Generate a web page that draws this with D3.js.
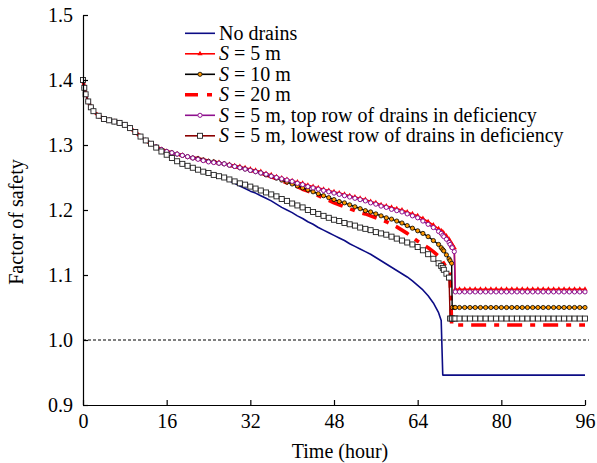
<!DOCTYPE html>
<html><head><meta charset="utf-8">
<script src="https://cdn.jsdelivr.net/npm/d3@7"></script>
<style>
html,body{margin:0;padding:0;background:#fff;}
svg{display:block;font-family:"Liberation Serif","Times New Roman",serif;}
</style></head>
<body><svg id="chart" width="597" height="463"></svg>
<script>
// ---------- DATA ----------
const hours = [0,0.25,0.5,1,1.5,2,3,4,5,6,7,8,9,10,11,12,13,14,15,16,17,18,19,20,21,22,23,24,25,26,27,28,29,30,31,32,33,34,35,36,37,38,39,40,41,42,43,44,45,46,47,48,49,50,51,52,53,54,55,56,57,58,59,60,61,62,63,64,65,66,67,68,68.5,68.8,69,69.5,70,70.2,70.5,70.6,71,71.2,72,73,74,75,76,77,78,79,80,81,82,83,84,85,86,87,88,89,90,91,92,93,94,95,96];

const noDrains = [1.400,1.388,1.378,1.367,1.358,1.352,1.345,1.340,1.338,1.336,1.334,1.331,1.326,1.320,1.313,1.307,1.302,1.297,
 1.290,1.285,1.280,1.275,1.271,1.268,1.265,1.262,1.259,1.257,
 1.254,1.252,1.249,1.245,1.241,1.237,1.233,1.229,1.226,1.222,
 1.218,1.214,1.209,1.204,1.200,1.196,1.191,1.187,1.182,1.178,
 1.173,1.169,1.165,1.161,1.157,1.153,1.148,1.144,1.140,1.136,
 1.132,1.127,1.122,1.117,1.112,1.107,1.102,1.097,1.091,1.084,
 1.077,1.068,1.057,1.042,
 1.030,0.946,0.946,0.946,0.946,0.946,0.946,0.946,0.946,0.946,
 0.946,0.946,0.946,0.946,0.946,0.946,0.946,0.946,0.946,0.946,0.946,0.946,0.946,0.946,0.946,0.946,0.946,0.946,0.946,0.946,0.946,0.946,0.946,0.946,0.946];

const s5 = [1.400,1.388,1.378,1.367,1.358,1.352,1.345,1.340,1.338,1.336,1.334,1.331,1.326,1.320,1.313,1.307,1.302,1.297,
 1.293,1.290,1.288,1.286,1.284,1.282,1.280,1.279,1.277,1.275,
 1.274,1.273,1.271,1.270,1.268,1.267,1.265,1.263,1.261,1.259,
 1.256,1.254,1.251,1.249,1.247,1.245,1.243,1.241,1.238,1.236,
 1.234,1.232,1.230,1.228,1.226,1.224,1.222,1.220,1.218,1.216,
 1.213,1.211,1.208,1.206,1.204,1.202,1.200,1.197,1.194,1.191,
 1.187,1.182,1.177,1.171,
 1.168,1.166,1.164,1.160,1.155,1.152,1.148,1.147,1.142,1.078,
 1.078,1.078,1.078,1.078,1.078,1.078,1.078,1.078,1.078,1.078,1.078,1.078,1.078,1.078,1.078,1.078,1.078,1.078,1.078,1.078,1.078,1.078,1.078,1.078,1.078];

const s10 = [1.400,1.388,1.378,1.367,1.358,1.352,1.345,1.340,1.338,1.336,1.334,1.331,1.326,1.320,1.313,1.307,1.302,1.297,
 1.293,1.290,1.288,1.286,1.284,1.282,1.280,1.279,1.277,1.275,
 1.274,1.272,1.271,1.269,1.267,1.265,1.263,1.261,1.259,1.257,
 1.254,1.252,1.249,1.246,1.243,1.240,1.237,1.234,1.231,1.228,
 1.225,1.222,1.219,1.216,1.213,1.211,1.208,1.205,1.202,1.199,
 1.197,1.194,1.191,1.188,1.186,1.183,1.180,1.176,1.172,1.168,
 1.164,1.159,1.153,1.147,
 1.142,1.139,1.137,1.131,1.125,1.122,1.118,1.050,1.050,1.050,
 1.050,1.050,1.050,1.050,1.050,1.050,1.050,1.050,1.050,1.050,1.050,1.050,1.050,1.050,1.050,1.050,1.050,1.050,1.050,1.050,1.050,1.050,1.050,1.050,1.050];

const s20 = [1.400,1.388,1.378,1.367,1.358,1.352,1.345,1.340,1.338,1.336,1.334,1.331,1.326,1.320,1.313,1.307,1.302,1.297,
 1.293,1.290,1.288,1.286,1.284,1.282,1.280,1.279,1.277,1.275,
 1.274,1.272,1.271,1.269,1.267,1.265,1.263,1.261,1.259,1.257,
 1.254,1.251,1.248,1.245,1.242,1.239,1.236,1.232,1.229,1.226,
 1.222,1.218,1.215,1.211,1.208,1.205,1.202,1.199,1.196,1.194,
 1.191,1.188,1.185,1.182,1.178,1.174,1.169,1.164,1.158,1.152,
 1.147,1.142,1.136,1.129,
 1.124,1.120,1.118,1.111,1.105,1.100,1.023,1.023,1.023,1.023,
 1.023,1.023,1.023,1.023,1.023,1.023,1.023,1.023,1.023,1.023,1.023,1.023,1.023,1.023,1.023,1.023,1.023,1.023,1.023,1.023,1.023,1.023,1.023,1.023,1.023];

const topRowDef = [1.400,1.388,1.378,1.367,1.358,1.352,1.345,1.340,1.338,1.336,1.334,1.331,1.326,1.320,1.313,1.307,1.302,1.297,
 1.293,1.290,1.288,1.286,1.284,1.282,1.280,1.278,1.276,1.274,
 1.273,1.272,1.271,1.269,1.267,1.265,1.263,1.261,1.259,1.257,
 1.255,1.252,1.250,1.248,1.246,1.244,1.241,1.239,1.236,1.234,
 1.232,1.230,1.228,1.226,1.224,1.222,1.220,1.218,1.216,1.214,
 1.211,1.209,1.206,1.204,1.201,1.199,1.197,1.194,1.191,1.188,
 1.183,1.178,1.173,1.167,
 1.164,1.161,1.159,1.155,1.150,1.147,1.143,1.142,1.136,1.074,
 1.074,1.074,1.074,1.074,1.074,1.074,1.074,1.074,1.074,1.074,1.074,1.074,1.074,1.074,1.074,1.074,1.074,1.074,1.074,1.074,1.074,1.074,1.074,1.074,1.074];

const lowRowDef = [1.400,1.388,1.378,1.367,1.358,1.352,1.345,1.340,1.338,1.336,1.334,1.331,1.326,1.320,1.313,1.307,1.302,1.296,
 1.290,1.285,1.280,1.275,1.271,1.268,1.265,1.262,1.259,1.257,
 1.254,1.252,1.250,1.247,1.244,1.241,1.239,1.236,1.233,1.230,
 1.227,1.224,1.221,1.217,1.214,1.210,1.207,1.204,1.200,1.197,
 1.194,1.191,1.188,1.185,1.183,1.180,1.178,1.176,1.173,1.171,
 1.169,1.166,1.164,1.162,1.159,1.156,1.153,1.150,1.147,1.143,
 1.138,1.132,1.125,1.118,
 1.114,1.111,1.108,1.102,1.096,1.033,1.033,1.033,1.033,1.033,
 1.033,1.033,1.033,1.033,1.033,1.033,1.033,1.033,1.033,1.033,1.033,1.033,1.033,1.033,1.033,1.033,1.033,1.033,1.033,1.033,1.033,1.033,1.033,1.033,1.033];

const xTicks = [0,16,32,48,64,80,96];
const yTicks = [0.9,1.0,1.1,1.2,1.3,1.4,1.5];
const criticalFS = 1.0;
const legendLabels = ["No drains","= 5 m","= 10 m","= 20 m","= 5 m, top row of drains in deficiency","= 5 m, lowest row of drains in deficiency"];

// ---------- CHART ----------
const svg = d3.select("#chart");
const x = d3.scaleLinear().domain([0,96]).range([83,585]);
const y = d3.scaleLinear().domain([0.9,1.5]).range([405,15]);
const FONT = 20;

const series = [
  {name:"blue", vals:noDrains, color:"#0c0c85", width:1.6, dash:null, marker:null},
  {name:"s20", vals:s20, color:"#ff0000", width:3.6, dash:"15,8,5,8", marker:null},
  {name:"s5", vals:s5, color:"#ff0000", width:1.6, dash:null, marker:"tri"},
  {name:"s10", vals:s10, color:"#000000", width:1.4, dash:null, marker:"orange"},
  {name:"top", vals:topRowDef, color:"#8e108e", width:1.4, dash:null, marker:"pcircle"},
  {name:"low", vals:lowRowDef, color:"#8b0000", width:1.4, dash:null, marker:"square"}
];
const legendOrder = ["blue","s5","s10","s20","top","low"];

const line = d3.line().x(d=>x(d[0])).y(d=>y(d[1]));

function drawMarker(g, type, cx, cy){
  if(type==="tri"){
    g.append("path").attr("d", d3.symbol(d3.symbolTriangle, 12)()).attr("transform",`translate(${cx},${cy})`)
      .attr("fill","#ff0000").attr("stroke","none");
  } else if(type==="orange"){
    g.append("circle").attr("cx",cx).attr("cy",cy).attr("r",2.1).attr("fill","#ff9900").attr("stroke","#000").attr("stroke-width",0.8);
  } else if(type==="pcircle"){
    g.append("circle").attr("cx",cx).attr("cy",cy).attr("r",2.1).attr("fill","#fff").attr("stroke","#8e108e").attr("stroke-width",1);
  } else if(type==="square"){
    g.append("rect").attr("x",cx-2.5).attr("y",cy-2.5).attr("width",5).attr("height",5).attr("fill","#fff").attr("stroke","#222").attr("stroke-width",0.9);
  }
}

// critical FS line
svg.append("line").attr("x1",x(0)).attr("x2",x(96)+4).attr("y1",y(criticalFS)).attr("y2",y(criticalFS))
  .attr("stroke","#000").attr("stroke-width",1).attr("stroke-dasharray","3,2");

series.forEach(s=>{
  const pts = hours.map((h,i)=>[h,s.vals[i]]).filter(d=>d[1]!==undefined);
  const g = svg.append("g");
  g.append("path").datum(pts).attr("d",line).attr("fill","none").attr("stroke",s.color)
    .attr("stroke-width",s.width).attr("stroke-dasharray",s.dash).attr("stroke-linejoin","round");
  if(s.marker) pts.forEach(p=>drawMarker(g, s.marker, x(p[0]), y(p[1])));
});

// axes
const xAxis = d3.axisBottom(x).tickValues(xTicks).tickSizeInner(-5).tickSizeOuter(0).tickPadding(9).tickFormat(d3.format("d"));
const yAxis = d3.axisLeft(y).tickValues(yTicks).tickSizeInner(-5).tickSizeOuter(0).tickPadding(10).tickFormat(d3.format(".1f"));
const gx = svg.append("g").attr("transform",`translate(0,${y(0.9)})`).call(xAxis);
const gy = svg.append("g").attr("transform",`translate(${x(0)},0)`).call(yAxis);
[gx,gy].forEach(g=>{
  g.attr("font-family","Liberation Serif").attr("font-size",FONT);
  g.selectAll("path,line").attr("stroke","#000").attr("stroke-width",1.2);
  g.selectAll("text").attr("fill","#000");
});

svg.append("text").attr("x",340).attr("y",458).attr("text-anchor","middle").attr("font-size",FONT).text("Time (hour)");
svg.append("text").attr("transform","translate(23,222) rotate(-90)").attr("text-anchor","middle").attr("font-size",FONT).text("Factor of safety");

// legend
const lg = svg.append("g");
const legX0 = 185, legX1 = 215, legY0 = 33.3, legDy = 20.5;
legendOrder.map(n=>series.find(s=>s.name===n)).forEach((s,i)=>{
  const cy = legY0 + i*legDy;
  lg.append("line").attr("x1",legX0).attr("x2",legX1).attr("y1",cy).attr("y2",cy)
    .attr("stroke",s.color).attr("stroke-width",s.name==="s20"?3.6:1.6).attr("stroke-dasharray",s.name==="s20"?"13,9,5,20":null);
  if(s.marker) drawMarker(lg, s.marker, (legX0+legX1)/2, cy);
  const t = lg.append("text").attr("x",219).attr("y",cy+6.5).attr("font-size",FONT);
  if(i===0){ t.text(legendLabels[0]); }
  else {
    t.append("tspan").attr("font-style","italic").text("S");
    t.append("tspan").text(" " + legendLabels[i]);
  }
});
</script></body></html>
